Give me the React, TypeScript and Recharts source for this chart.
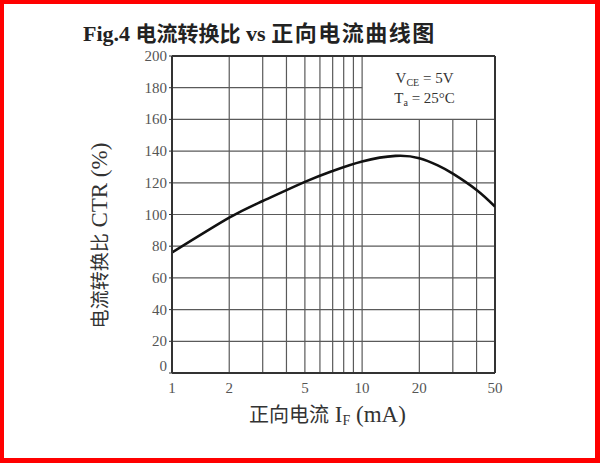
import React from 'react';
import { LineChart, Line, XAxis, YAxis, ReferenceLine, ReferenceArea } from 'recharts';

// forward current I_F (mA) vs current transfer ratio CTR (%)
const forwardCurrent = [1, 2, 3, 5, 7, 10, 15, 20, 25, 30, 40, 50];
const ctrPercent = [76, 98, 108.5, 120.6, 127.5, 133.5, 137, 135.5, 131, 125.8, 115.5, 105];

const xTicks = [1, 2, 5, 10, 20, 50];
const yTicks = [0, 20, 40, 60, 80, 100, 120, 140, 160, 180, 200];
const xGrid = [2, 3, 4, 5, 6, 7, 8, 9, 10, 20, 30, 40];
const yGrid = [20, 40, 60, 80, 100, 120, 140, 160, 180];

// test conditions box (upper right, grid is left out there)
const boxCorner = { x: 10, y: 160 };
const conditions = [
  { main: 'V', sub: 'CE', rest: ' = 5V' },
  { main: 'T', sub: 'a', rest: ' = 25°C' },
];

const data = forwardCurrent.map((f, i) => ({ f, ctr: ctrPercent[i] }));

const SERIF = "'Liberation Serif', 'Times New Roman', serif";
const CJK = "'Noto Sans CJK SC', sans-serif";
const GRID = '#5a5a5a';
const FRAME = '#333';

function XTick({ x, y, payload }: any) {
  return (
    <text x={x} y={y + 20} textAnchor="middle" fontFamily={SERIF} fontSize={15} fill="#555">
      {payload.value}
    </text>
  );
}

function YTick({ x, y, payload }: any) {
  const dy = payload.value === 0 ? -7 : 0;
  return (
    <text x={x} y={y + 5 + dy} textAnchor="end" fontFamily={SERIF} fontSize={15} fill="#555">
      {payload.value}
    </text>
  );
}

function XTitle({ viewBox }: any) {
  const cx = viewBox.x + viewBox.width / 2 - 6;
  return (
    <text x={cx} y={viewBox.y + 49} textAnchor="middle" fill="#333">
      <tspan fontFamily={CJK} fontSize={20}>正向电流</tspan>
      <tspan fontFamily={SERIF} fontSize={23}> I</tspan>
      <tspan fontFamily={SERIF} fontSize={14} dy={3}>F</tspan>
      <tspan fontFamily={SERIF} fontSize={23} dy={-3}> (mA)</tspan>
    </text>
  );
}

function YTitle({ viewBox }: any) {
  const cx = viewBox.x - 32;
  const cy = viewBox.y + viewBox.height / 2 + 21;
  return (
    <text
      x={cx}
      y={cy + 7}
      textAnchor="middle"
      fill="#333"
      transform={`rotate(-90, ${cx}, ${cy})`}
    >
      <tspan fontFamily={CJK} fontSize={19}>电流转换比</tspan>
      <tspan fontFamily={SERIF} fontSize={23}> CTR (%)</tspan>
    </text>
  );
}

function ConditionsLabel({ viewBox }: any) {
  const cx = viewBox.x + viewBox.width / 2 - 4;
  return (
    <g>
      {conditions.map((c, i) => (
        <text key={i} x={cx} y={viewBox.y + 27 + i * 20} textAnchor="middle" fontFamily={SERIF} fontSize={15} fill="#333">
          <tspan>{c.main}</tspan>
          <tspan fontSize={10} dy={3}>{c.sub}</tspan>
          <tspan dy={-3}>{c.rest}</tspan>
        </text>
      ))}
    </g>
  );
}

export default function App() {
  return (
    <div style={{ position: 'absolute', left: 0, top: 0, width: 600, height: 463, background: '#fff' }}>
      <svg width={600} height={60} style={{ position: 'absolute', left: 0, top: 0 }}>
        <text x={83} y={41} fill="#222" fontWeight="bold">
          <tspan fontFamily={SERIF} fontSize={22}>Fig.4 </tspan>
          <tspan fontFamily={CJK} fontSize={21}>电流转换比</tspan>
          <tspan fontFamily={SERIF} fontSize={22}> vs </tspan>
          <tspan fontFamily={CJK} fontSize={22} letterSpacing={1.5}>正向电流曲线图</tspan>
        </text>
      </svg>
      <div style={{ position: 'absolute', left: 0, top: 0 }}>
        <LineChart width={600} height={463} data={data} margin={{ top: 56, right: 105, bottom: 60, left: 132 }}>
          <XAxis
            dataKey="f"
            type="number"
            scale="log"
            domain={[1, 50]}
            ticks={xTicks}
            allowDataOverflow
            height={30}
            tickLine={false}
            tickSize={0}
            tickMargin={0}
            axisLine={{ stroke: FRAME, strokeWidth: 2 }}
            tick={<XTick />}
            label={{ content: <XTitle /> }}
          />
          <YAxis
            type="number"
            domain={[0, 200]}
            ticks={yTicks}
            width={40}
            tickSize={3}
            tickMargin={2}
            tickLine={{ stroke: FRAME }}
            axisLine={{ stroke: FRAME, strokeWidth: 2 }}
            tick={<YTick />}
            label={{ content: <YTitle /> }}
          />
          {xGrid.map((v) => (
            <ReferenceLine
              key={`gx${v}`}
              segment={[{ x: v, y: 0 }, { x: v, y: v > boxCorner.x ? boxCorner.y : 200 }]}
              stroke={GRID}
              strokeWidth={1.2}
            />
          ))}
          {yGrid.map((v) => (
            <ReferenceLine
              key={`gy${v}`}
              segment={[{ x: 1, y: v }, { x: v > boxCorner.y ? boxCorner.x : 50, y: v }]}
              stroke={GRID}
              strokeWidth={1.2}
            />
          ))}
          <ReferenceLine y={200} stroke={FRAME} strokeWidth={2} />
          <ReferenceLine x={50} stroke={FRAME} strokeWidth={2} />
          <ReferenceArea
            x1={boxCorner.x}
            x2={50}
            y1={boxCorner.y}
            y2={200}
            fill="none"
            stroke="none"
            label={<ConditionsLabel />}
          />
          <Line
            type="natural"
            dataKey="ctr"
            stroke="#111"
            strokeWidth={2.6}
            dot={false}
            activeDot={false}
            isAnimationActive={false}
          />
        </LineChart>
      </div>
      <div
        style={{
          position: 'absolute',
          left: 0,
          top: 0,
          width: 600,
          height: 463,
          boxSizing: 'border-box',
          borderStyle: 'solid',
          borderColor: '#ff0000',
          borderWidth: '4px 5px 5px 4px',
          pointerEvents: 'none',
        }}
      />
    </div>
  );
}
